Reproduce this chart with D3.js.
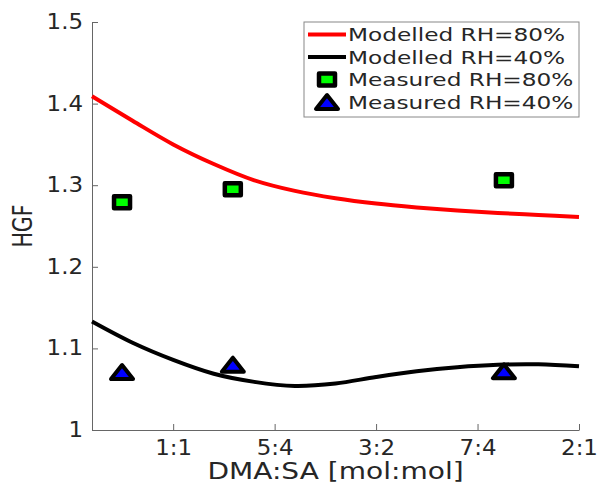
<!DOCTYPE html>
<html>
<head>
<meta charset="utf-8">
<script src="https://cdn.jsdelivr.net/npm/d3@7"></script>
<style>
  body { margin: 0; background: #fff; }
  svg { display: block; }
  text { font-family: 'DejaVu Sans', sans-serif; fill: #262626; }
</style>
</head>
<body>
<svg id="chart" width="598" height="486"></svg>
<script>
// modelled curves (ratio DMA:SA as number)
const ratioModel = [0.8, 0.9, 1.0, 1.1, 1.2, 1.3, 1.4, 1.5, 1.6, 1.7, 1.8, 1.9, 2.0]
const hgfModel80 = [1.409, 1.379, 1.350, 1.326, 1.306, 1.293, 1.284, 1.2775, 1.2728, 1.269, 1.266, 1.2635, 1.261]
const hgfModel40 = [1.133, 1.107, 1.086, 1.069, 1.059, 1.054, 1.057, 1.065, 1.072, 1.077, 1.080, 1.0805, 1.078]

// measurements
const ratioMeasured = [0.874, 1.147, 1.815]
const hgfMeasured80 = [1.279, 1.295, 1.306]
const hgfMeasured40 = [1.071, 1.080, 1.072]

const xTicks = [1, 1.25, 1.5, 1.75, 2]
const xTickLabels = ['1:1', '5:4', '3:2', '7:4', '2:1']
const yTicks = [1, 1.1, 1.2, 1.3, 1.4, 1.5]

const legendLabels = ['Modelled RH=80%', 'Modelled RH=40%', 'Measured RH=80%', 'Measured RH=40%']

const svg = d3.select('#chart')

const x = d3.scaleLinear().domain([0.8, 2]).range([92, 579])
const y = d3.scaleLinear().domain([1, 1.5]).range([430, 22])

// axes, ticks pointing inward like matlab
const xAxis = svg.append('g')
	.attr('transform', 'translate(0,' + y(1) + ')')
	.call(d3.axisBottom(x)
		.tickValues(xTicks)
		.tickFormat((d, i) => xTickLabels[i])
		.tickSize(-6)
		.tickSizeOuter(0)
		.tickPadding(10))

const yAxis = svg.append('g')
	.attr('transform', 'translate(' + x(0.8) + ',0)')
	.call(d3.axisLeft(y)
		.tickValues(yTicks)
		.tickFormat(d => d3.format('')(d))
		.tickSize(-6)
		.tickSizeOuter(0)
		.tickPadding(8))

svg.selectAll('.domain, .tick line').attr('stroke', '#666')

xAxis.selectAll('text')
	.attr('font-size', 20.5)
	.attr('fill', '#262626')
	.attr('font-family', 'DejaVu Sans')
	.attr('transform', 'scale(1.12,1)')

yAxis.selectAll('text')
	.attr('font-size', 20.5)
	.attr('fill', '#262626')
	.attr('font-family', 'DejaVu Sans')
	.attr('transform', 'scale(1.12,1)')

svg.append('text')
	.attr('transform', 'translate(' + (x(0.8) + x(2)) / 2 + ',479) scale(1.22,1)')
	.attr('text-anchor', 'middle')
	.attr('font-size', 23)
	.text('DMA:SA [mol:mol]')

svg.append('text')
	.attr('transform', 'translate(32,' + (y(1) + y(1.5)) / 2 + ') rotate(-90) scale(0.79,1)')
	.attr('text-anchor', 'middle')
	.attr('font-size', 26)
	.text('HGF')

// curves
const line = d3.line()
	.x(d => x(d[0]))
	.y(d => y(d[1]))
	.curve(d3.curveCatmullRom)

svg.append('path')
	.datum(d3.zip(ratioModel, hgfModel80))
	.attr('d', line)
	.attr('fill', 'none')
	.attr('stroke', '#ff0000')
	.attr('stroke-width', 4)

svg.append('path')
	.datum(d3.zip(ratioModel, hgfModel40))
	.attr('d', line)
	.attr('fill', 'none')
	.attr('stroke', '#000')
	.attr('stroke-width', 4)

// markers
const square = g => g.append('rect')
	.attr('x', -8).attr('y', -6)
	.attr('width', 16).attr('height', 12)
	.attr('fill', '#00ff00')
	.attr('stroke', '#000')
	.attr('stroke-width', 4.5)
	.attr('stroke-linejoin', 'round')

const triangle = g => g.append('path')
	.attr('d', 'M-11,7L11,7L0,-7Z')
	.attr('fill', '#0000ff')
	.attr('stroke', '#000')
	.attr('stroke-width', 4)
	.attr('stroke-linejoin', 'round')

svg.selectAll('.m80')
	.data(d3.zip(ratioMeasured, hgfMeasured80))
	.enter()
	.append('g')
	.attr('class', 'm80')
	.attr('transform', d => 'translate(' + x(d[0]) + ',' + y(d[1]) + ')')
	.call(square)

svg.selectAll('.m40')
	.data(d3.zip(ratioMeasured, hgfMeasured40))
	.enter()
	.append('g')
	.attr('class', 'm40')
	.attr('transform', d => 'translate(' + x(d[0]) + ',' + y(d[1]) + ')')
	.call(triangle)

// legend
const legend = svg.append('g')
	.attr('transform', 'translate(304,22)')

legend.append('rect')
	.attr('width', 275)
	.attr('height', 95)
	.attr('fill', '#fff')
	.attr('stroke', '#888')
	.attr('stroke-width', 1)

const rows = legend.selectAll('.legend-row')
	.data(legendLabels)
	.enter()
	.append('g')
	.attr('class', 'legend-row')
	.attr('transform', (d, i) => 'translate(0,' + (12.5 + i * 22.5) + ')')

rows.append('text')
	.attr('transform', 'translate(44,6.5) scale(1.29,1)')
	.attr('font-size', 18)
	.text(d => d)

rows.filter((d, i) => i < 2)
	.append('line')
	.attr('x1', 4).attr('x2', 42)
	.attr('stroke', (d, i) => i === 0 ? '#ff0000' : '#000')
	.attr('stroke-width', 4)

rows.filter((d, i) => i === 2)
	.append('g')
	.attr('transform', 'translate(23,0)')
	.call(square)

rows.filter((d, i) => i === 3)
	.append('g')
	.attr('transform', 'translate(23,0)')
	.call(triangle)
</script>
</body>
</html>
